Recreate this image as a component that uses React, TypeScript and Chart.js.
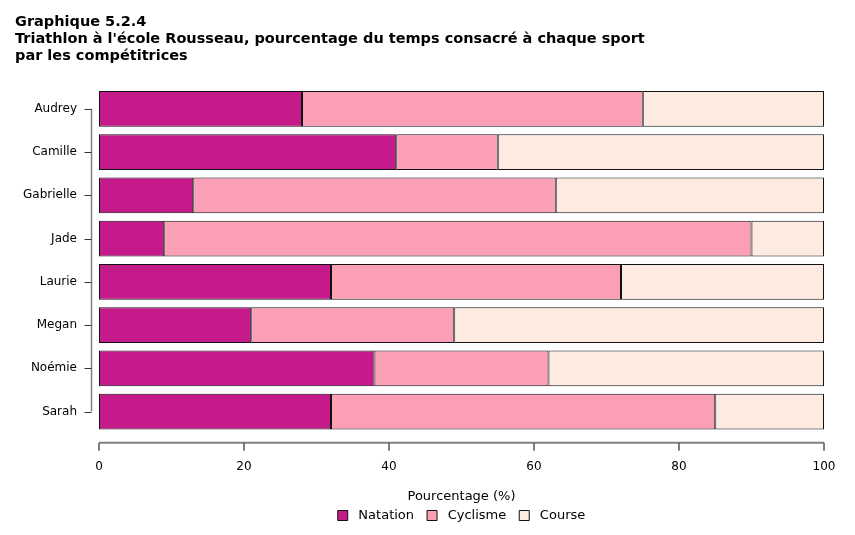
import { useEffect, useRef } from "react"
import { Chart, registerables } from "chart.js"

Chart.register(...registerables)

const categories = ["Audrey", "Camille", "Gabrielle", "Jade", "Laurie", "Megan", "Noémie", "Sarah"]
const natation = [28, 41, 13, 9, 32, 21, 38, 32]
const cyclisme = [47, 14, 50, 81, 40, 28, 24, 53]
const course = [25, 45, 37, 10, 28, 51, 38, 15]
const xTicks = [0, 20, 40, 60, 80, 100]

const FONT = "'DejaVu Sans', Verdana, sans-serif"

// R-style axes: short axis lines from first to last tick, drawn off the plot area
const rAxes = {
  id: "rAxes",
  afterDraw(chart: any) {
    const { ctx, chartArea, scales } = chart
    const x = scales.x
    const y = scales.y
    ctx.save()
    ctx.strokeStyle = "#808080"

    // y axis
    const ax = chartArea.left - 7.5
    const yTop = y.getPixelForValue(0)
    const yBot = y.getPixelForValue(categories.length - 1)
    ctx.lineWidth = 1.5
    ctx.beginPath()
    ctx.moveTo(ax, yTop)
    ctx.lineTo(ax, yBot)
    ctx.stroke()
    ctx.strokeStyle = "#333"
    ctx.lineWidth = 1
    categories.forEach((_, i) => {
      const py = Math.round(y.getPixelForValue(i)) + 0.5
      ctx.beginPath()
      ctx.moveTo(ax - 7, py)
      ctx.lineTo(ax, py)
      ctx.stroke()
    })

    // x axis
    const ay = chartArea.bottom + 9.5
    ctx.strokeStyle = "#808080"
    ctx.lineWidth = 2
    ctx.beginPath()
    ctx.moveTo(x.getPixelForValue(xTicks[0]), ay)
    ctx.lineTo(x.getPixelForValue(xTicks[xTicks.length - 1]), ay)
    ctx.stroke()
    ctx.strokeStyle = "#555"
    ctx.lineWidth = 1.5
    xTicks.forEach((v) => {
      const px = x.getPixelForValue(v)
      ctx.beginPath()
      ctx.moveTo(px, ay)
      ctx.lineTo(px, ay + 8)
      ctx.stroke()
    })
    ctx.restore()
  },
}

export default function App() {
  const chartRef = useRef<HTMLCanvasElement>(null)
  const chartInstance = useRef<Chart | null>(null)

  useEffect(() => {
    document.body.style.margin = "0"
    if (!chartRef.current) return

    if (chartInstance.current) {
      chartInstance.current.destroy()
    }

    const ctx = chartRef.current.getContext("2d")
    if (!ctx) return

    Chart.defaults.color = "#000"
    Chart.defaults.font.family = FONT

    const common = {
      borderColor: "#111",
      borderWidth: 1,
      borderSkipped: false,
      barPercentage: 0.83,
      categoryPercentage: 1,
    }

    chartInstance.current = new Chart(ctx, {
      type: "bar",
      data: {
        labels: categories,
        datasets: [
          { label: "Natation", data: natation, backgroundColor: "#c51b8a", ...common },
          { label: "Cyclisme", data: cyclisme, backgroundColor: "#fa9fb5", ...common },
          { label: "Course", data: course, backgroundColor: "#fdeae0", ...common },
        ],
      },
      options: {
        indexAxis: "y",
        animation: false,
        responsive: true,
        maintainAspectRatio: false,
        layout: {
          padding: { left: 15, right: 31, top: 0, bottom: 3 },
        },
        scales: {
          x: {
            stacked: true,
            min: 0,
            max: 100,
            border: { display: false },
            grid: { display: false, drawTicks: false },
            ticks: {
              stepSize: 20,
              padding: 26.6,
              font: { size: 12 },
            },
            title: {
              display: true,
              text: "Pourcentage (%)",
              font: { size: 13 },
              padding: { top: 0, bottom: -8.5 },
            },
            afterFit: (scale: any) => {
              scale.height = 62.8
              scale.paddingLeft = 0
              scale.paddingRight = 0
            },
          },
          y: {
            stacked: true,
            border: { display: false },
            grid: { display: false, drawTicks: false },
            ticks: {
              padding: 22,
              font: { size: 12 },
            },
            afterFit: (scale: any) => {
              scale.width = 84
            },
          },
        },
        plugins: {
          title: {
            display: true,
            align: "start",
            text: [
              "Graphique 5.2.4",
              "Triathlon à l'école Rousseau, pourcentage du temps consacré à chaque sport",
              "par les compétitrices",
            ],
            font: { size: 14.5, weight: "bold", family: FONT, lineHeight: "17px" },
            padding: { top: 13.5, bottom: 22.7 },
          },
          legend: {
            position: "bottom",
            fullSize: false,
            labels: {
              boxWidth: 10,
              boxHeight: 10,
              padding: 13,
              font: { size: 13 },
              generateLabels: (chart: any) =>
                Chart.defaults.plugins.legend.labels
                  .generateLabels(chart)
                  .map((item: any) => ({ ...item, text: " " + item.text })),
            },
          },
          tooltip: { enabled: false },
        },
      },
      plugins: [rAxes],
    })

    return () => {
      if (chartInstance.current) {
        chartInstance.current.destroy()
      }
    }
  }, [])

  return (
    <div style={{ width: 855, height: 535, position: "relative" }}>
      <canvas ref={chartRef} />
    </div>
  )
}
